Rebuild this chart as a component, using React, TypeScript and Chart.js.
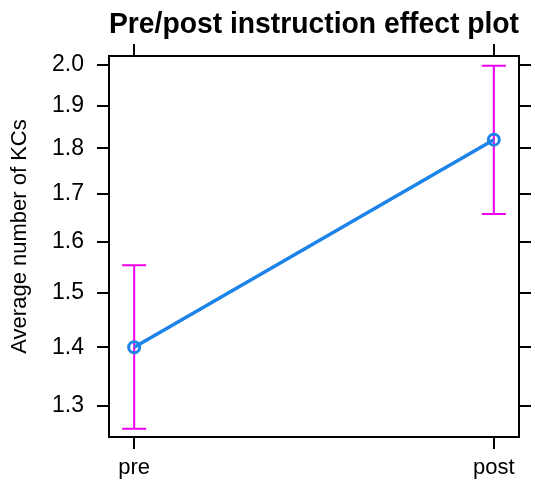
import { useEffect, useRef } from 'react';
import { Chart, registerables } from 'chart.js';

Chart.register(...registerables);

// Effect of instruction on the average number of KCs, with confidence limits
const phases = ['pre', 'post'];
const phasePositions = [1, 2];
const meanKCs = [1.4, 1.82];
const lowerKCs = [1.263, 1.657];
const upperKCs = [1.553, 1.998];
const yTickValues = [1.3, 1.4, 1.5, 1.6, 1.7, 1.8, 1.9, 2.0];
const yAxisTitle = 'Average number of KCs';

const LINE_BLUE = '#1c84e8';
const BAR_MAGENTA = '#ee00ee';
const FONT = "'Liberation Sans', Arial, Helvetica, sans-serif";

// Vertical interval bars with end caps, drawn beneath the line
const errorBars = {
  id: 'errorBars',
  beforeDatasetsDraw(chart: any) {
    const { ctx, scales } = chart;
    const x = scales.x;
    const y = scales.y;
    ctx.save();
    ctx.strokeStyle = BAR_MAGENTA;
    ctx.lineWidth = 2;
    phasePositions.forEach((p, i) => {
      const px = x.getPixelForValue(p);
      const top = y.getPixelForValue(upperKCs[i]);
      const bot = y.getPixelForValue(lowerKCs[i]);
      ctx.beginPath();
      ctx.moveTo(px, top);
      ctx.lineTo(px, bot);
      ctx.moveTo(px - 12, top);
      ctx.lineTo(px + 12, top);
      ctx.moveTo(px - 12, bot);
      ctx.lineTo(px + 12, bot);
      ctx.stroke();
    });
    ctx.restore();
  },
};

// Rotated y-axis title, placed slightly above the plot's middle
const yTitle = {
  id: 'yTitle',
  afterDraw(chart: any) {
    const { ctx, chartArea } = chart;
    const cy = (chartArea.top + chartArea.bottom) / 2 - 10;
    ctx.save();
    ctx.translate(20, cy);
    ctx.rotate(-Math.PI / 2);
    ctx.fillStyle = '#000';
    ctx.font = `22px ${FONT}`;
    ctx.textAlign = 'center';
    ctx.textBaseline = 'middle';
    ctx.fillText(yAxisTitle, 0, 0);
    ctx.restore();
  },
};

const frameGrid = {
  drawOnChartArea: false,
  drawTicks: true,
  tickLength: 12,
  color: '#000',
  lineWidth: 2,
};
const frameBorder = { display: true, color: '#000', width: 2 };

const X_MIN = 0.93;
const X_MAX = 2.07;
const Y_MIN = 1.25;
const Y_MAX = 2.023;

export default function App() {
  const canvasRef = useRef<HTMLCanvasElement | null>(null);

  useEffect(() => {
    if (!canvasRef.current) return;
    const setXTicks = (s: any) => {
      s.ticks = phasePositions.map((v) => ({ value: v }));
    };
    const setYTicks = (s: any) => {
      s.ticks = yTickValues.map((v) => ({ value: v }));
    };
    const chart = new Chart(canvasRef.current, {
      type: 'line',
      data: {
        datasets: [
          {
            data: phasePositions.map((p, i) => ({ x: p, y: meanKCs[i] })),
            borderColor: LINE_BLUE,
            borderWidth: 3.5,
            pointRadius: 5.5,
            pointBorderWidth: 3,
            pointBorderColor: LINE_BLUE,
            pointBackgroundColor: 'rgba(255,255,255,0)',
            tension: 0,
            xAxisID: 'x',
            yAxisID: 'y',
          },
        ],
      },
      plugins: [errorBars, yTitle],
      options: {
        responsive: false,
        animation: false,
        layout: { padding: 0 },
        plugins: {
          legend: { display: false },
          tooltip: { enabled: false },
          title: {
            display: true,
            text: 'Pre/post instruction effect plot',
            fullSize: false,
            color: '#000',
            font: { family: FONT, size: 29.8, weight: 'bold', lineHeight: 1.2 },
            padding: { top: 7, bottom: 0 },
          },
        },
        scales: {
          x: {
            type: 'linear',
            position: 'bottom',
            min: X_MIN,
            max: X_MAX,
            afterBuildTicks: setXTicks,
            afterFit: (s: any) => {
              s.height = 49;
            },
            ticks: {
              autoSkip: false,
              maxRotation: 0,
              padding: 6,
              color: '#000',
              font: { family: FONT, size: 22 },
              callback: (v: any) => phases[phasePositions.indexOf(Number(v))],
            },
            grid: frameGrid,
            border: frameBorder,
          },
          x2: {
            type: 'linear',
            position: 'top',
            min: X_MIN,
            max: X_MAX,
            afterBuildTicks: setXTicks,
            afterFit: (s: any) => {
              s.height = 13.2;
            },
            ticks: { display: false },
            grid: frameGrid,
            border: frameBorder,
          },
          y: {
            type: 'logarithmic',
            position: 'left',
            min: Y_MIN,
            max: Y_MAX,
            afterBuildTicks: setYTicks,
            afterFit: (s: any) => {
              s.width = 109;
            },
            ticks: {
              autoSkip: false,
              padding: 13,
              color: '#000',
              font: { family: FONT, size: 23 },
              callback: (v: any) => Number(v).toFixed(1),
            },
            grid: frameGrid,
            border: frameBorder,
          },
          y2: {
            type: 'logarithmic',
            position: 'right',
            min: Y_MIN,
            max: Y_MAX,
            afterBuildTicks: setYTicks,
            afterFit: (s: any) => {
              s.width = 16;
            },
            ticks: { display: false },
            grid: frameGrid,
            border: frameBorder,
          },
        },
      },
    });
    return () => chart.destroy();
  }, []);

  return (
    <div style={{ position: 'absolute', left: 0, top: 0, width: 535, height: 486, background: '#fff' }}>
      <canvas ref={canvasRef} width={535} height={486} style={{ display: 'block' }} />
    </div>
  );
}
